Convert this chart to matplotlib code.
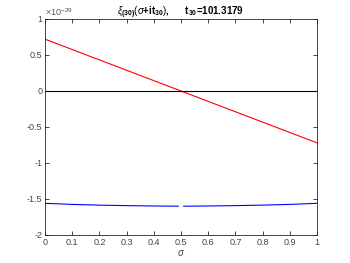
import numpy as np
import matplotlib
matplotlib.use('Agg')
import matplotlib.pyplot as plt

# values (units of 1e-29)
sigma_red = [0.0, 1.0]
red_vals = [0.72, -0.72]

sigma_blue = [0.0, 0.1, 0.2, 0.3, 0.4, 0.49, 0.5, 0.51, 0.6, 0.7, 0.8, 0.9, 1.0]
blue_vals = [-1.56, -1.575, -1.585, -1.592, -1.597, -1.60, np.nan,
             -1.60, -1.597, -1.592, -1.585, -1.575, -1.56]

sigma_zero = [0.0, 1.0]
zero_vals = [0.0, 0.0]

scale = 1e-29

plt.rcParams['font.family'] = ['Liberation Sans', 'DejaVu Sans']
plt.rcParams['mathtext.fontset'] = 'custom'
plt.rcParams['mathtext.rm'] = 'Liberation Sans'
plt.rcParams['mathtext.it'] = 'Liberation Sans:italic'
plt.rcParams['mathtext.bf'] = 'Liberation Sans:bold'

fig = plt.figure(figsize=(3.5, 2.63), dpi=100)
ax = fig.add_axes([45 / 350, 1 - 235 / 263, 272 / 350, 216 / 263])

ax.plot(sigma_red, np.array(red_vals) * scale, color='red', lw=0.8)
ax.plot(sigma_zero, np.array(zero_vals) * scale, color='black', lw=0.8)
ax.plot(sigma_blue, np.array(blue_vals) * scale, color='blue', lw=0.8)

ax.set_xlim(0, 1)
ax.set_ylim(-2 * scale, 1 * scale)
ax.set_xticks(np.arange(0, 1.01, 0.1))
ax.set_xticklabels(['0', '0.1', '0.2', '0.3', '0.4', '0.5', '0.6', '0.7', '0.8', '0.9', '1'])
ax.set_yticks(np.arange(-2, 1.01, 0.5) * scale)
ax.set_yticklabels(['-2', '-1.5', '-1', '-0.5', '0', '0.5', '1'])
ax.tick_params(direction='in', length=3, width=0.6, labelsize=6.5, colors='#262626',
               labelcolor='#444444', top=True, right=True, pad=2)
for s in ax.spines.values():
    s.set_linewidth(0.6)
    s.set_color('#262626')

ax.text(0.0, 1.005, r'$\times10^{-29}$', transform=ax.transAxes, fontsize=6.5,
        color='#555555', ha='left', va='bottom')
ax.set_xlabel(r'$\sigma$', fontsize=7, labelpad=1, color='#444444')
ax.set_title(r'$\xi_{\mathbf{(30)}}(\sigma$+$\mathbf{it}_{\mathbf{30}})$,      $\mathbf{t_{30}}$=101.3179',
             fontsize=7, fontweight='bold', pad=3)

fig.savefig('out.png', dpi=100)
